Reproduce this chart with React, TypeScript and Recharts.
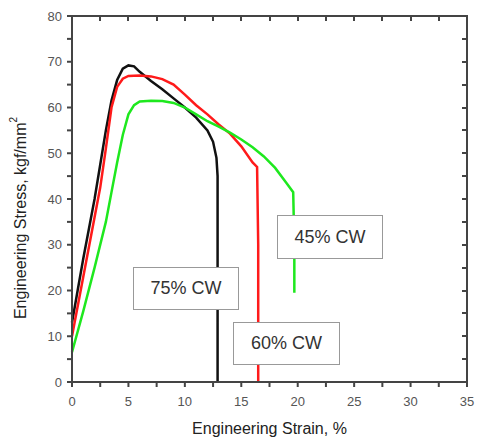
import React from "react";
import { LineChart, Line, XAxis, YAxis, Label } from "recharts";

interface Pt {
  x: number;
  y: number;
}

// engineering stress-strain curves (strain %, stress kgf/mm2)
const cw75: Pt[] = [
  { x: 0, y: 13 }, { x: 0.5, y: 20 }, { x: 1, y: 27 }, { x: 1.5, y: 33.5 },
  { x: 2, y: 40 }, { x: 2.5, y: 47.5 }, { x: 3, y: 55 }, { x: 3.5, y: 61.5 },
  { x: 4, y: 66 }, { x: 4.5, y: 68.5 }, { x: 5, y: 69.2 }, { x: 5.5, y: 69 },
  { x: 6, y: 67.8 }, { x: 7, y: 65.8 }, { x: 8, y: 64 }, { x: 9, y: 62 },
  { x: 10, y: 60 }, { x: 11, y: 57.8 }, { x: 12, y: 55 }, { x: 12.5, y: 52.5 },
  { x: 12.8, y: 49 }, { x: 12.9, y: 45 }, { x: 12.9, y: 0 },
];

const cw60: Pt[] = [
  { x: 0, y: 10 }, { x: 1, y: 23 }, { x: 2, y: 36 }, { x: 2.5, y: 42.5 },
  { x: 3, y: 51 }, { x: 3.5, y: 60 }, { x: 4, y: 64.5 }, { x: 4.5, y: 66.3 },
  { x: 5, y: 66.9 }, { x: 6, y: 67 }, { x: 7, y: 66.8 }, { x: 8, y: 66.2 },
  { x: 9, y: 65 }, { x: 10, y: 62.8 }, { x: 11, y: 60.5 }, { x: 12, y: 58.5 },
  { x: 13, y: 56.3 }, { x: 14, y: 54.3 }, { x: 15, y: 51.5 }, { x: 16, y: 48 },
  { x: 16.4, y: 47 }, { x: 16.5, y: 30 }, { x: 16.5, y: 0 },
];

const cw45: Pt[] = [
  { x: 0, y: 6.5 }, { x: 1, y: 15.5 }, { x: 2, y: 25 }, { x: 3, y: 35 },
  { x: 3.5, y: 41.5 }, { x: 4, y: 48 }, { x: 4.5, y: 54 }, { x: 5, y: 58.5 },
  { x: 5.5, y: 60.5 }, { x: 6, y: 61.3 }, { x: 7, y: 61.5 }, { x: 8, y: 61.4 },
  { x: 9, y: 61 }, { x: 10, y: 60 }, { x: 11, y: 58.5 }, { x: 12, y: 57 },
  { x: 13, y: 55.8 }, { x: 14, y: 54.5 }, { x: 15, y: 53 }, { x: 16, y: 51.3 },
  { x: 17, y: 49.3 }, { x: 18, y: 46.8 }, { x: 19, y: 43.5 }, { x: 19.6, y: 41.5 },
  { x: 19.7, y: 30 }, { x: 19.7, y: 19.5 },
];

const xTicks = [0, 2.5, 5, 7.5, 10, 12.5, 15, 17.5, 20, 22.5, 25, 27.5, 30, 32.5, 35];
const yTicks = [0, 5, 10, 15, 20, 25, 30, 35, 40, 45, 50, 55, 60, 65, 70, 75, 80];

const boxes = [
  { text: "75% CW", left: 133, top: 267, width: 106, height: 43 },
  { text: "60% CW", left: 233, top: 322, width: 107, height: 43 },
  { text: "45% CW", left: 277, top: 215, width: 106, height: 44 },
];

const font = "'Liberation Sans', Arial, sans-serif";
const axisColor = "#444";
const tickStyle = { fontSize: 13, fill: "#555", fontFamily: font };

// plot rectangle given by the margins and axis sizes below
const plot = { left: 72, top: 16, right: 467, bottom: 382 };

function YTitle(props: any) {
  const vb = props.viewBox;
  const cx = vb.x + 20;
  const cy = vb.y + vb.height / 2 + 19;
  return (
    <text
      x={cx}
      y={cy}
      transform={`rotate(-90, ${cx}, ${cy})`}
      textAnchor="middle"
      dominantBaseline="central"
      fontSize={16}
      fontFamily={font}
      fill="#222"
    >
      Engineering Stress, kgf/mm
      <tspan fontSize={10} dy={-7}>2</tspan>
    </text>
  );
}

export default function App() {
  const pw = plot.right - plot.left;
  const ph = plot.bottom - plot.top;
  return (
    <div style={{ position: "absolute", left: 0, top: 0, width: 477, height: 444 }}>
      <LineChart width={477} height={444} margin={{ top: 16, right: 10, bottom: 0, left: 0 }}>
        <XAxis
          type="number"
          dataKey="x"
          domain={[0, 35]}
          ticks={xTicks}
          tickFormatter={(v: number) => (v % 5 === 0 ? String(v) : "")}
          height={62}
          tickSize={5}
          tickMargin={10}
          tick={tickStyle}
          tickLine={{ stroke: axisColor, strokeWidth: 2 }}
          stroke={axisColor}
          strokeWidth={2}
        >
          <Label
            value="Engineering Strain, %"
            position="insideBottom"
            offset={10}
            style={{ fontSize: 16, fill: "#222", fontFamily: font }}
          />
        </XAxis>
        <YAxis
          type="number"
          domain={[0, 80]}
          ticks={yTicks}
          tickFormatter={(v: number) => (v % 10 === 0 ? String(v) : "")}
          width={72}
          tickSize={5}
          tickMargin={5}
          tick={tickStyle}
          tickLine={{ stroke: axisColor, strokeWidth: 2 }}
          stroke={axisColor}
          strokeWidth={2}
        >
          <Label content={YTitle} />
        </YAxis>
        <Line data={cw75} dataKey="y" type="linear" stroke="#111" strokeWidth={2.5} dot={false} isAnimationActive={false} />
        <Line data={cw60} dataKey="y" type="linear" stroke="#ff1a1a" strokeWidth={2.5} dot={false} isAnimationActive={false} />
        <Line data={cw45} dataKey="y" type="linear" stroke="#1ee81e" strokeWidth={2.5} dot={false} isAnimationActive={false} />
      </LineChart>
      {/* full frame around the plot area */}
      <div
        style={{
          position: "absolute",
          left: plot.left - 1,
          top: plot.top - 1,
          width: pw + 2,
          height: ph + 2,
          boxSizing: "border-box",
          border: `2px solid ${axisColor}`,
          pointerEvents: "none",
          zIndex: 5,
        }}
      />
      {xTicks.map((t) => (
        <div
          key={"tx" + t}
          style={{
            position: "absolute",
            left: plot.left + (t / 35) * pw - 1,
            top: plot.top,
            width: 2,
            height: 5,
            background: axisColor,
            zIndex: 5,
          }}
        />
      ))}
      {yTicks.map((t) => (
        <div
          key={"ty" + t}
          style={{
            position: "absolute",
            left: plot.right - 5,
            top: plot.bottom - (t / 80) * ph - 1,
            width: 5,
            height: 2,
            background: axisColor,
            zIndex: 5,
          }}
        />
      ))}
      {boxes.map((b) => (
        <div
          key={b.text}
          style={{
            position: "absolute",
            left: b.left,
            top: b.top,
            width: b.width,
            height: b.height,
            boxSizing: "border-box",
            border: "1.5px solid #999",
            background: "#fff",
            display: "flex",
            alignItems: "center",
            justifyContent: "center",
            fontFamily: font,
            fontSize: 18,
            color: "#333",
            zIndex: 6,
          }}
        >
          {b.text}
        </div>
      ))}
    </div>
  );
}
